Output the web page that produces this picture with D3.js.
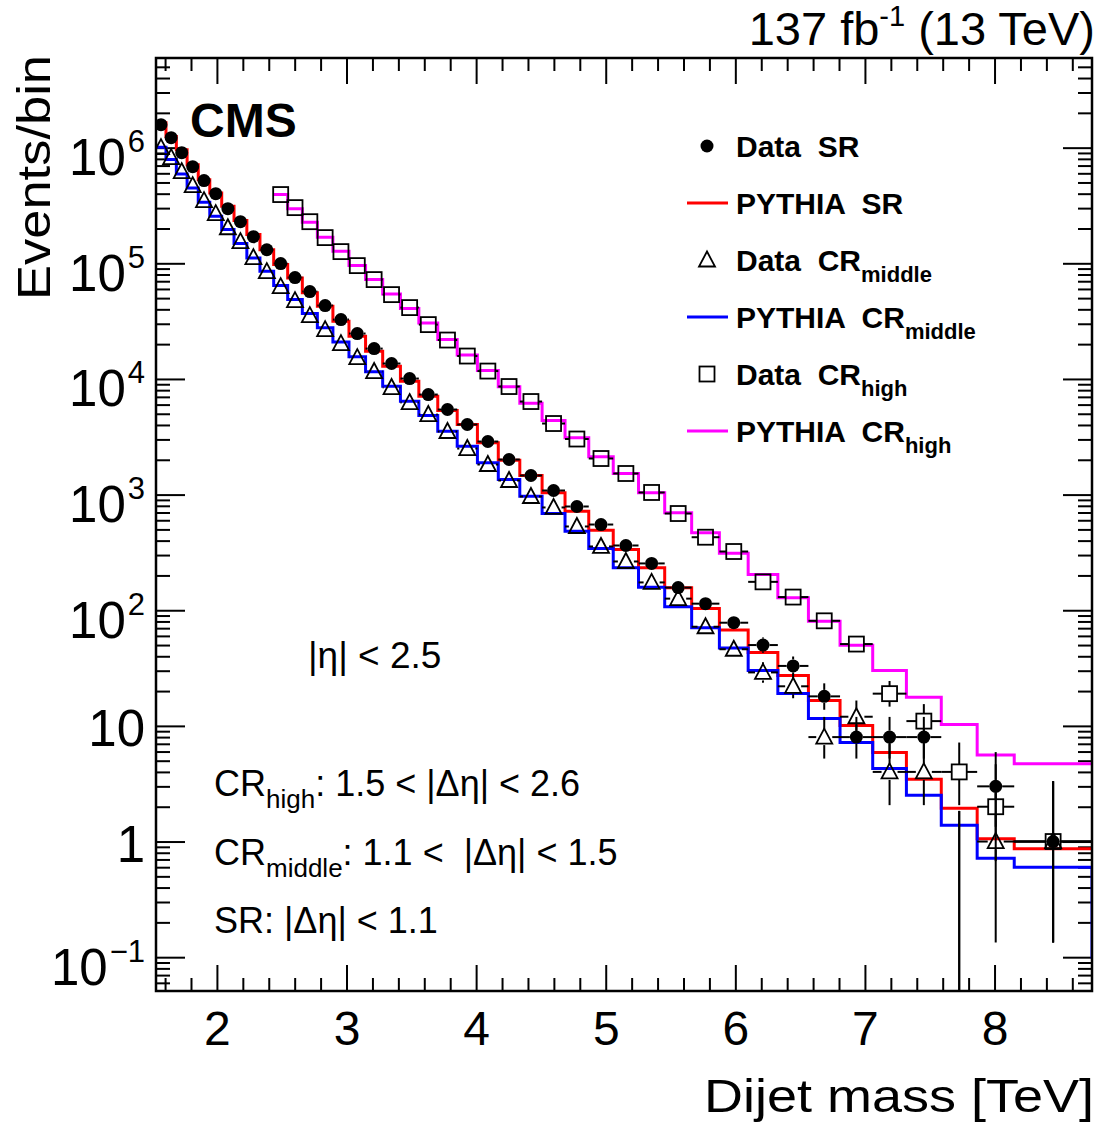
<!DOCTYPE html>
<html>
<head>
<meta charset="utf-8">
<script src="https://cdn.jsdelivr.net/npm/d3@7"></script>
<style>
  body { margin: 0; background: #fff; }
  svg { display: block; font-family: "Liberation Sans", Arial, Helvetica, sans-serif; }
  text { white-space: pre; }
</style>
</head>
<body>
<svg id="chart" width="1106" height="1131"></svg>
<script>
// Dijet mass bin edges (TeV)
const massEdges = [1.530, 1.607, 1.687, 1.770, 1.856, 1.945, 2.037, 2.132, 2.231, 2.332,
  2.438, 2.546, 2.659, 2.775, 2.895, 3.019, 3.147, 3.279, 3.416, 3.558,
  3.704, 3.854, 4.010, 4.171, 4.337, 4.509, 4.686, 4.869, 5.058, 5.253,
  5.455, 5.663, 5.877, 6.099, 6.328, 6.564, 6.808, 7.060, 7.320, 7.589,
  7.866, 8.152, 8.752];

// Events per bin, one value per bin (null = bin not in that region)
const dataSR = [1580000, 1220000, 905000, 685000, 519000, 400000, 297000, 229000, 170000, 131000,
  99400, 75200, 56900, 43100, 32600, 24700, 18300, 13600, 10080, 7330,
  5440, 4036, 2877, 2011, 1463, 1085, 789, 551, 363, 254,
  157, 114, 78, 50, 33, 18, 8, 8, 8, 0,
  3, 1];
const pythiaSR = [1640000, 1250000, 961000, 713000, 529000, 406000, 311000, 234000, 177000, 131000,
  97400, 74800, 55500, 42500, 31500, 23400, 17350, 12880, 9550, 7088,
  5333, 4036, 2804, 1983, 1463, 1037, 719, 492, 335, 233,
  156.5, 103.7, 67.5, 43.2, 27.3, 16.6, 10.1, 5.9, 3.45, 1.94,
  1.055, 0.865];
const dataCRmiddle = [1000000, 819000, 620000, 469000, 348000, 269000, 203000, 154000, 112000, 84800,
  62900, 47600, 35300, 26700, 20200, 15310, 11590, 8430, 6252, 4924,
  3511, 2502, 1820, 1324, 963, 774, 530, 356, 264, 174,
  126, 72, 46, 29, 22, 8, 12, 4, 4, 0,
  1, 1];
const pythiaCRmiddle = [1006000, 788000, 593000, 448000, 337000, 255000, 195600, 148000, 111300, 85300,
  64200, 48600, 36800, 27700, 20900, 15520, 11520, 8648, 6416, 4828,
  3532, 2620, 1883, 1350, 969, 686, 483, 342, 233, 158,
  107, 70.6, 47.2, 30.2, 19.1, 11.6, 7.2, 4.29, 2.51, 1.38,
  0.716, 0.598];
// the CR middle histogram drops to this value just past the last edge
const pythiaCRmiddleOverflow = { edge: 9.067, value: 0.1 };
const dataCRhigh = [null, null, null, null, null, null, null, null, null, null,
  393000, 303000, 229000, 166800, 126200, 95500, 72300, 53600, 41400, 29500,
  21700, 15780, 11700, 8598, 6378, 4117, 3024, 2051, 1522, 1043,
  686, 428, 322, 176, 130, 81, 51, 19, 11, 4,
  2, 1];
const pythiaCRhigh = [null, null, null, null, null, null, null, null, null, null,
  393000, 297000, 226000, 167700, 127000, 95500, 72300, 54400, 40600, 30400,
  21900, 16100, 11820, 8545, 6172, 4369, 3097, 2122, 1522, 1037,
  696, 468, 311, 204, 128, 80.5, 49.9, 30.2, 17.7, 10.3,
  5.6, 4.7];

// Axis ticks
const xTickValues = [2, 3, 4, 5, 6, 7, 8];
const xTickLabels = ["2", "3", "4", "5", "6", "7", "8"];
const yTickValues = [0.1, 1, 10, 100, 1000, 10000, 100000, 1000000];
const yTickLabels = [["10", "\u22121"], ["1", null], ["10", null], ["10", "2"], ["10", "3"], ["10", "4"], ["10", "5"], ["10", "6"]];

// Chart setup
const svg = d3.select("#chart");
const margin = { top: 58, right: 14, bottom: 140, left: 156 };
const width = 1106 - margin.left - margin.right;
const height = 1131 - margin.top - margin.bottom;
const g = svg.append("g").attr("transform", `translate(${margin.left},${margin.top})`);

const x = d3.scaleLinear().domain([1.53, 8.752]).range([0, width]);
const y = d3.scaleLog().domain([0.051, 5.96e6]).range([height, 0]);

svg.append("defs").append("clipPath").attr("id", "frameClip")
  .append("rect").attr("width", width).attr("height", height);

// Ticks (inside the frame, on all four sides)
const xMinor = d3.range(16, 88, 2).map(d => d / 10).filter(d => !xTickValues.includes(d));
const yMinor = [];
for (let e = -2; e <= 6; e++) for (let k = 2; k <= 9; k++) {
  const v = k * Math.pow(10, e);
  if (v > 0.051 && v < 5.96e6) yMinor.push(v);
}

function styleAxis(sel) {
  sel.select(".domain").remove();
  sel.selectAll(".tick line").attr("stroke", "#000").attr("stroke-width", 2);
}

g.append("g").attr("transform", `translate(0,${height})`)
  .call(d3.axisBottom(x).tickValues(xTickValues).tickSize(-26).tickPadding(20)
    .tickFormat((d, i) => xTickLabels[i]))
  .call(styleAxis)
  .selectAll("text").attr("font-size", 48).attr("fill", "#000")
  .attr("font-family", "Liberation Sans, Arial, sans-serif");
g.append("g").attr("transform", `translate(0,${height})`)
  .call(d3.axisBottom(x).tickValues(xMinor).tickSize(-13).tickFormat(""))
  .call(styleAxis);
g.append("g")
  .call(d3.axisTop(x).tickValues(xTickValues).tickSize(-26).tickFormat(""))
  .call(styleAxis);
g.append("g")
  .call(d3.axisTop(x).tickValues(xMinor).tickSize(-13).tickFormat(""))
  .call(styleAxis);

const yAxis = g.append("g")
  .call(d3.axisLeft(y).tickValues(yTickValues).tickSize(-29).tickFormat(""))
  .call(styleAxis);
g.append("g")
  .call(d3.axisLeft(y).tickValues(yMinor).tickSize(-14).tickFormat(""))
  .call(styleAxis);
g.append("g").attr("transform", `translate(${width},0)`)
  .call(d3.axisRight(y).tickValues(yTickValues).tickSize(-29).tickFormat(""))
  .call(styleAxis);
g.append("g").attr("transform", `translate(${width},0)`)
  .call(d3.axisRight(y).tickValues(yMinor).tickSize(-14).tickFormat(""))
  .call(styleAxis);

// y tick labels with exponents
yAxis.selectAll(".tick").each(function(d, i) {
  const [base, exp] = yTickLabels[i];
  const t = d3.select(this).append("text")
    .attr("x", -11).attr("y", exp ? 27 : 20)
    .attr("text-anchor", "end").attr("fill", "#000").attr("font-size", 51);
  t.append("tspan").text(base);
  if (exp) t.append("tspan").attr("font-size", 31).attr("dx", 2).attr("dy", -23).text(exp);
});

// Plot content
const plot = g.append("g").attr("clip-path", "url(#frameClip)");

function histLine(values, extra) {
  const pts = values.map((v, i) => [massEdges[i], v]);
  const last = values.length - 1;
  pts.push([massEdges[last + 1], values[last]]);
  if (extra) pts.push([massEdges[last + 1], extra.value], [extra.edge, extra.value]);
  return d3.line()
    .defined(d => d[1] != null)
    .x(d => x(d[0]))
    .y(d => y(d[1]))
    .curve(d3.curveStepAfter)(pts);
}

function poissonBand(n) {
  if (n === 0) return [0, 1.84];
  return [n - Math.sqrt(n - 0.25), n + 1 + Math.sqrt(n + 0.75)];
}

const histograms = [
  { values: pythiaSR, color: "#ff0000" },
  { values: pythiaCRmiddle, color: "#0000ff", extra: pythiaCRmiddleOverflow },
  { values: pythiaCRhigh, color: "#ff00ff" }
];

function drawMarker(sel, type, cx, cy) {
  if (type === "dot") {
    sel.append("circle").attr("cx", cx).attr("cy", cy).attr("r", 6.5).attr("fill", "#000");
  } else if (type === "tri") {
    sel.append("path")
      .attr("d", `M${cx},${cy - 8.5}L${cx + 8},${cy + 6.5}L${cx - 8},${cy + 6.5}Z`)
      .attr("fill", "none").attr("stroke", "#000").attr("stroke-width", 1.8);
  } else if (type === "sq") {
    sel.append("rect").attr("x", cx - 7.5).attr("y", cy - 7.5).attr("width", 15).attr("height", 15)
      .attr("fill", "none").attr("stroke", "#000").attr("stroke-width", 1.8);
  }
}

function drawData(values, type, half) {
  const layer = plot.append("g");
  const bars = layer.append("g").attr("stroke", "#000").attr("stroke-width", 2);
  values.forEach((n, i) => {
    if (n == null) return;
    const x0 = x(massEdges[i]), x1 = x(massEdges[i + 1]);
    const cx = x((massEdges[i] + massEdges[i + 1]) / 2);
    const [lo, hi] = poissonBand(n);
    if (n === 0) {
      bars.append("line").attr("x1", cx).attr("x2", cx).attr("y1", y(hi)).attr("y2", height);
      return;
    }
    const cy = y(n);
    if (cx - half > x0) {
      bars.append("line").attr("x1", x0).attr("x2", cx - half).attr("y1", cy).attr("y2", cy);
      bars.append("line").attr("x1", cx + half).attr("x2", x1).attr("y1", cy).attr("y2", cy);
    }
    const yHi = y(hi), yLo = lo > 0 ? y(lo) : height;
    if (yHi < cy - half) bars.append("line").attr("x1", cx).attr("x2", cx).attr("y1", yHi).attr("y2", cy - half);
    if (yLo > cy + half) bars.append("line").attr("x1", cx).attr("x2", cx).attr("y1", cy + half).attr("y2", yLo);
    drawMarker(layer, type, cx, cy);
  });
}

histograms.forEach(h => {
  plot.append("path").attr("d", histLine(h.values, h.extra))
    .attr("fill", "none").attr("stroke", h.color).attr("stroke-width", 3);
});
drawData(dataCRhigh, "sq", 7.5);
drawData(dataCRmiddle, "tri", 8);
drawData(dataSR, "dot", 6.5);

// Frame
g.append("rect").attr("width", width).attr("height", height)
  .attr("fill", "none").attr("stroke", "#000").attr("stroke-width", 2.5);

// Titles
svg.append("text").attr("transform", "translate(50,55) rotate(-90)")
  .attr("text-anchor", "end").attr("font-size", 47)
  .attr("textLength", 245).attr("lengthAdjust", "spacingAndGlyphs").text("Events/bin");
svg.append("text").attr("x", 1094).attr("y", 1112)
  .attr("text-anchor", "end").attr("font-size", 47)
  .attr("textLength", 390).attr("lengthAdjust", "spacingAndGlyphs").text("Dijet mass [TeV]");

const lumi = svg.append("text").attr("x", 1095).attr("y", 45)
  .attr("text-anchor", "end").attr("font-size", 47);
lumi.append("tspan").text("137 fb");
lumi.append("tspan").attr("font-size", 29).attr("dy", -19).text("-1");
lumi.append("tspan").attr("dy", 19).text(" (13 TeV)");

svg.append("text").attr("x", 190).attr("y", 137)
  .attr("font-size", 48).attr("font-weight", "bold").text("CMS");

// Legend
const legendEntries = [
  { type: "dot", text: "Data  SR", sub: null },
  { type: "line", color: "#ff0000", text: "PYTHIA  SR", sub: null },
  { type: "tri", text: "Data  CR", sub: "middle" },
  { type: "line", color: "#0000ff", text: "PYTHIA  CR", sub: "middle" },
  { type: "sq", text: "Data  CR", sub: "high" },
  { type: "line", color: "#ff00ff", text: "PYTHIA  CR", sub: "high" }
];
const legend = svg.append("g");
legendEntries.forEach((e, i) => {
  const base = 157 + i * 57;
  const my = base - 11;
  if (e.type === "line") {
    legend.append("line").attr("x1", 687).attr("x2", 728).attr("y1", my).attr("y2", my)
      .attr("stroke", e.color).attr("stroke-width", 3);
  } else {
    drawMarker(legend, e.type, 707, my);
  }
  const t = legend.append("text").attr("x", 736).attr("y", base)
    .attr("font-size", 30).attr("font-weight", "bold");
  t.append("tspan").text(e.text);
  if (e.sub) t.append("tspan").attr("font-size", 22).attr("dy", 11).text(e.sub);
});

// Region annotations
svg.append("text").attr("x", 308).attr("y", 668).attr("font-size", 37).text("|\u03b7| < 2.5");
const notes = [
  { sub: "high", rest: ": 1.5 < |\u0394\u03b7| < 2.6", y: 796 },
  { sub: "middle", rest: ": 1.1 <  |\u0394\u03b7| < 1.5", y: 865 }
];
notes.forEach(n => {
  const t = svg.append("text").attr("x", 214).attr("y", n.y).attr("font-size", 36);
  t.append("tspan").text("CR");
  t.append("tspan").attr("font-size", 26).attr("dy", 12).text(n.sub);
  t.append("tspan").attr("dy", -12).text(n.rest);
});
svg.append("text").attr("x", 214).attr("y", 933).attr("font-size", 36).text("SR: |\u0394\u03b7| < 1.1");
</script>
</body>
</html>
